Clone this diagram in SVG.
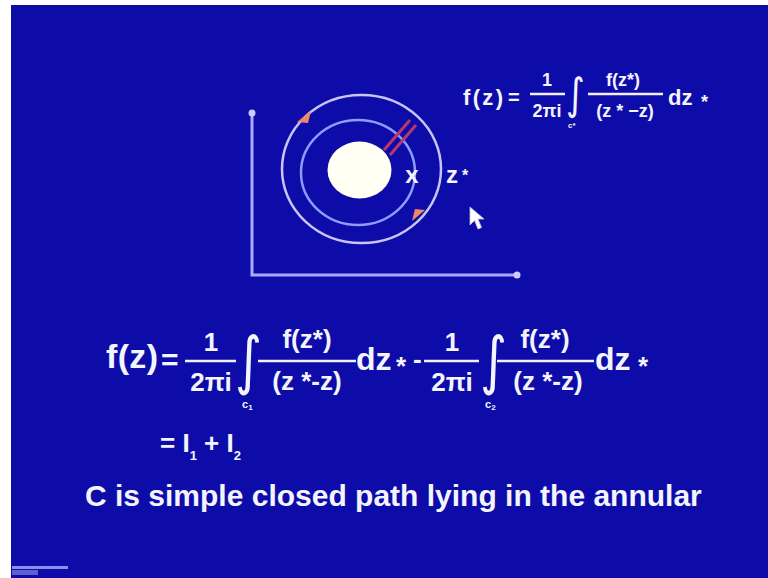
<svg xmlns="http://www.w3.org/2000/svg" width="768" height="578" viewBox="0 0 768 578">
<style>
.t{font-family:"Liberation Sans",Arial,sans-serif;font-weight:bold;fill:#f4f4ff}
.m{text-anchor:middle}
.int{font-family:"DejaVu Sans",sans-serif;fill:#f4f4ff}
.bar{stroke:#f0f0ff;stroke-width:2.5}
.axis{stroke:#aaaaff;stroke-width:3;fill:none;stroke-linecap:round}
</style>
<rect x="0" y="0" width="768" height="578" fill="#ffffff"/>
<rect x="11" y="5" width="757" height="573" fill="#0e0ca8"/>

<g id="logo">
<rect x="12" y="566" width="56" height="3" fill="#8a8ef0"/>
<rect x="12" y="570" width="26" height="5" fill="#5a60d0"/>
</g>

<g id="axes">
<path class="axis" d="M252,113 V275 H517"/>
<circle cx="252" cy="113" r="3.5" fill="#ccccff"/>
<circle cx="517" cy="275" r="3.5" fill="#ccccff"/>
</g>

<g id="outer-contour">
<ellipse cx="361.5" cy="169" rx="79.5" ry="74" fill="none" stroke="#c8c4f6" stroke-width="2.5"/>
<polygon points="297,122 311,111 308,123" fill="#f08868"/>
<polygon points="425,210 412,221 415,209" fill="#f08868"/>
</g>
<g id="inner-contour">
<ellipse cx="358" cy="172.5" rx="57" ry="52.5" fill="none" stroke="#8c9cff" stroke-width="2.5"/>
</g>
<g id="hole">
<ellipse cx="359.5" cy="170" rx="32" ry="28.5" fill="#fffff4"/>
</g>
<g id="connectors">
<line x1="384" y1="150" x2="410" y2="120" stroke="#b8386e" stroke-width="3"/>
<line x1="390" y1="155" x2="416" y2="125" stroke="#b8386e" stroke-width="3"/>
</g>
<g id="point-z">
<text class="t m" x="412" y="183" font-size="24">x</text>
</g>
<g id="label-zstar">
<text class="t" x="446" y="183" font-size="24">z</text>
<text class="t" x="462" y="181" font-size="16">*</text>
</g>
<g id="cursor">
<path d="M470,207 L470,225 L474.5,220.5 L478,229 L481.5,227.5 L478,219 L484,219 Z" fill="#ffffff" stroke="#c0c0e0" stroke-width="0.8"/>
</g>

<g id="formula-top">
<text class="t" x="463" y="105" font-size="22" textLength="40">f(z)</text>
<text class="t" x="508" y="104" font-size="20">=</text>
<line class="bar" x1="530" y1="94" x2="565" y2="94" stroke-width="1.8"/>
<text class="t m" x="547" y="86" font-size="18">1</text>
<text class="t m" x="547" y="117" font-size="18">2πi</text>
<text class="int" font-size="36" transform="translate(566,109) scale(1,1.2)">∫</text>
<text class="t" x="568" y="128" font-size="8">c*</text>
<line class="bar" x1="588" y1="94" x2="663" y2="94" stroke-width="1.8"/>
<text class="t m" x="623" y="86" font-size="18">f(z*)</text>
<text class="t m" x="625" y="117" font-size="18">(z * −z)</text>
<text class="t" x="668" y="105" font-size="22">dz</text>
<text class="t" x="701" y="108" font-size="18">*</text>
</g>

<g id="formula-main">
<text class="t" x="106" y="368" font-size="34" textLength="52">f(z)</text>
<text class="t" x="161" y="370" font-size="30">=</text>
<line class="bar" x1="185" y1="361" x2="236" y2="361"/>
<text class="t m" x="211" y="351" font-size="26">1</text>
<text class="t m" x="211" y="391" font-size="26">2πi</text>
<text class="int" font-size="52" transform="translate(235,382) scale(1,1.22)">∫</text>
<text class="t" x="242" y="408" font-size="11">c<tspan font-size="8" dy="2">1</tspan></text>
<line class="bar" x1="258" y1="361" x2="356" y2="361"/>
<text class="t m" x="307" y="348" font-size="26">f(z*)</text>
<text class="t m" x="307" y="390" font-size="26">(z *-z)</text>
<text class="t" x="356" y="370" font-size="32">dz</text>
<text class="t" x="396" y="375" font-size="26">*</text>
<text class="t" x="413" y="368" font-size="26">-</text>
<line class="bar" x1="424" y1="361" x2="479" y2="361"/>
<text class="t m" x="452" y="351" font-size="26">1</text>
<text class="t m" x="452" y="391" font-size="26">2πi</text>
<text class="int" font-size="52" transform="translate(480,382) scale(1,1.22)">∫</text>
<text class="t" x="485" y="408" font-size="11">c<tspan font-size="8" dy="2">2</tspan></text>
<line class="bar" x1="497" y1="361" x2="594" y2="361"/>
<text class="t m" x="545" y="348" font-size="26">f(z*)</text>
<text class="t m" x="548" y="390" font-size="26">(z *-z)</text>
<text class="t" x="595" y="370" font-size="32">dz</text>
<text class="t" x="638" y="375" font-size="26">*</text>
</g>

<g id="formula-sum">
<text class="t" x="160" y="452" font-size="26">= I<tspan font-size="13" dy="8">1</tspan><tspan dy="-8"> + I</tspan><tspan font-size="13" dy="8">2</tspan></text>
</g>

<g id="caption">
<text class="t" x="85" y="506" font-size="30">C is simple closed path lying in the annular</text>
</g>
</svg>
